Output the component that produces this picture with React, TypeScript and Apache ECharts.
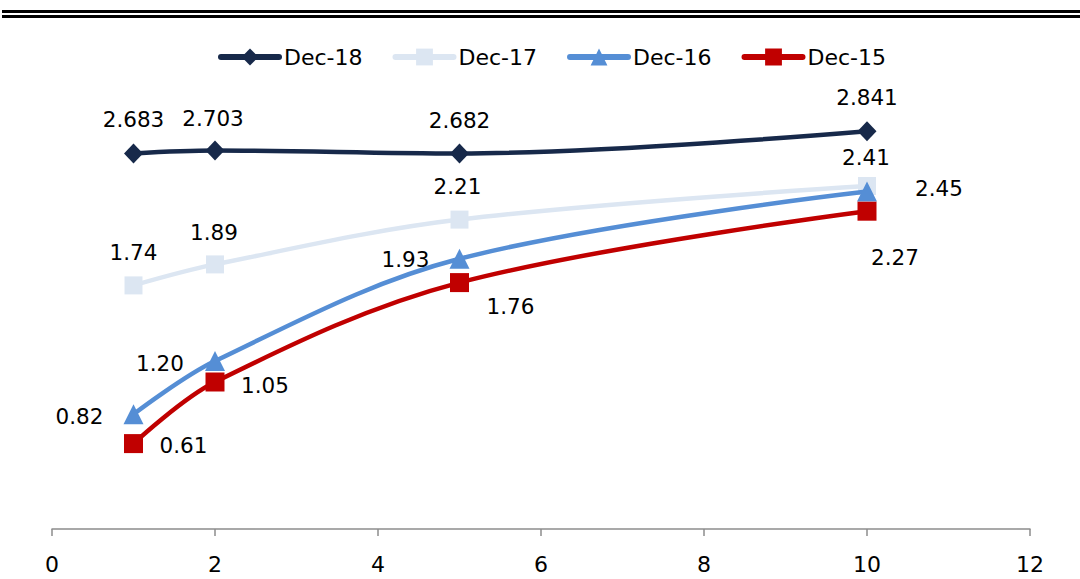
import React, { useEffect, useRef } from "react";
import * as echarts from "echarts";

const xValues = [1, 2, 5, 10];
const dec18 = [2.683, 2.703, 2.682, 2.841];
const dec17 = [1.74, 1.89, 2.21, 2.45];
const dec16 = [0.82, 1.2, 1.93, 2.41];
const dec15 = [0.61, 1.05, 1.76, 2.27];
const seriesNames = ["Dec-18", "Dec-17", "Dec-16", "Dec-15"];
const labelTexts18 = ["2.683", "2.703", "2.682", "2.841"];
const labelTexts17 = ["1.74", "1.89", "2.21", "2.45"];
const labelTexts16 = ["0.82", "1.20", "1.93", "2.41"];
const labelTexts15 = ["0.61", "1.05", "1.76", "2.27"];
const xTicks = [0, 2, 4, 6, 8, 10, 12];

// label offsets (styling, relative to point centre)
const off18 = [[0, -34], [-2, -32], [0, -33], [0, -34]];
const off17 = [[0, -33], [-1, -32], [-2, -33], [72, 2]];
const off16 = [[-54, 2], [-55, 2], [-54, 1], [-1, -34]];
const off15 = [[50, 2], [50, 3], [51, 24], [28, 46]];

const FONT = "DejaVu Sans";

function buildSeries(
  name: string,
  values: number[],
  texts: string[],
  offs: number[][],
  color: string,
  symbol: string,
  symbolSize: number | number[],
  z: number
) {
  return {
    name,
    type: "line",
    smooth: 0.35,
    z,
    symbol,
    symbolSize,
    lineStyle: { color, width: 4.5 },
    itemStyle: { color, borderWidth: 0 },
    data: values.map((v, i) => ({
      value: [xValues[i], v],
      label: {
        show: true,
        position: "inside",
        offset: offs[i],
        formatter: texts[i],
        color: "#000",
        fontFamily: FONT,
        fontSize: 21.5,
      },
    })),
  };
}

export default function App() {
  const ref = useRef<HTMLDivElement>(null);
  useEffect(() => {
    if (!ref.current) return;
    const chart = echarts.init(ref.current, undefined, { renderer: "svg" });
    chart.setOption({
      animation: false,
      backgroundColor: "#fff",
      graphic: [
        { type: "rect", shape: { x: 2, y: 10, width: 1078, height: 3 }, style: { fill: "#000" } },
        { type: "rect", shape: { x: 2, y: 15, width: 1078, height: 3 }, style: { fill: "#000" } },
      ],
      legend: {
        data: seriesNames,
        left: 213,
        top: 41,
        itemWidth: 58,
        itemHeight: 21,
        itemGap: 30,
        lineStyle: { width: 6, cap: "round" },
        textStyle: { fontFamily: FONT, fontSize: 22, color: "#000" },
      },
      grid: { left: 52, right: 50, top: 109, bottom: 50, containLabel: false },
      xAxis: {
        type: "value",
        min: xTicks[0],
        max: xTicks[xTicks.length - 1],
        interval: 2,
        splitLine: { show: false },
        axisLine: { show: true, lineStyle: { color: "#8c8c8c", width: 1.5 } },
        axisTick: { show: true, length: 7, lineStyle: { color: "#8c8c8c", width: 1.5 } },
        axisLabel: { color: "#000", fontFamily: FONT, fontSize: 22, margin: 24 },
      },
      yAxis: {
        type: "value",
        min: 0,
        max: 3,
        show: false,
        splitLine: { show: false },
      },
      series: [
        buildSeries("Dec-18", dec18, labelTexts18, off18, "#17294a", "diamond", [19, 20], 5),
        buildSeries("Dec-17", dec17, labelTexts17, off17, "#dce6f2", "rect", 18, 2),
        buildSeries("Dec-16", dec16, labelTexts16, off16, "#558ed5", "triangle", 20, 3),
        buildSeries("Dec-15", dec15, labelTexts15, off15, "#c00000", "rect", 19, 4),
      ],
    });
    return () => chart.dispose();
  }, []);
  return (
    <div
      ref={ref}
      style={{ position: "fixed", left: 0, top: 0, width: 1080, height: 579 }}
    />
  );
}
